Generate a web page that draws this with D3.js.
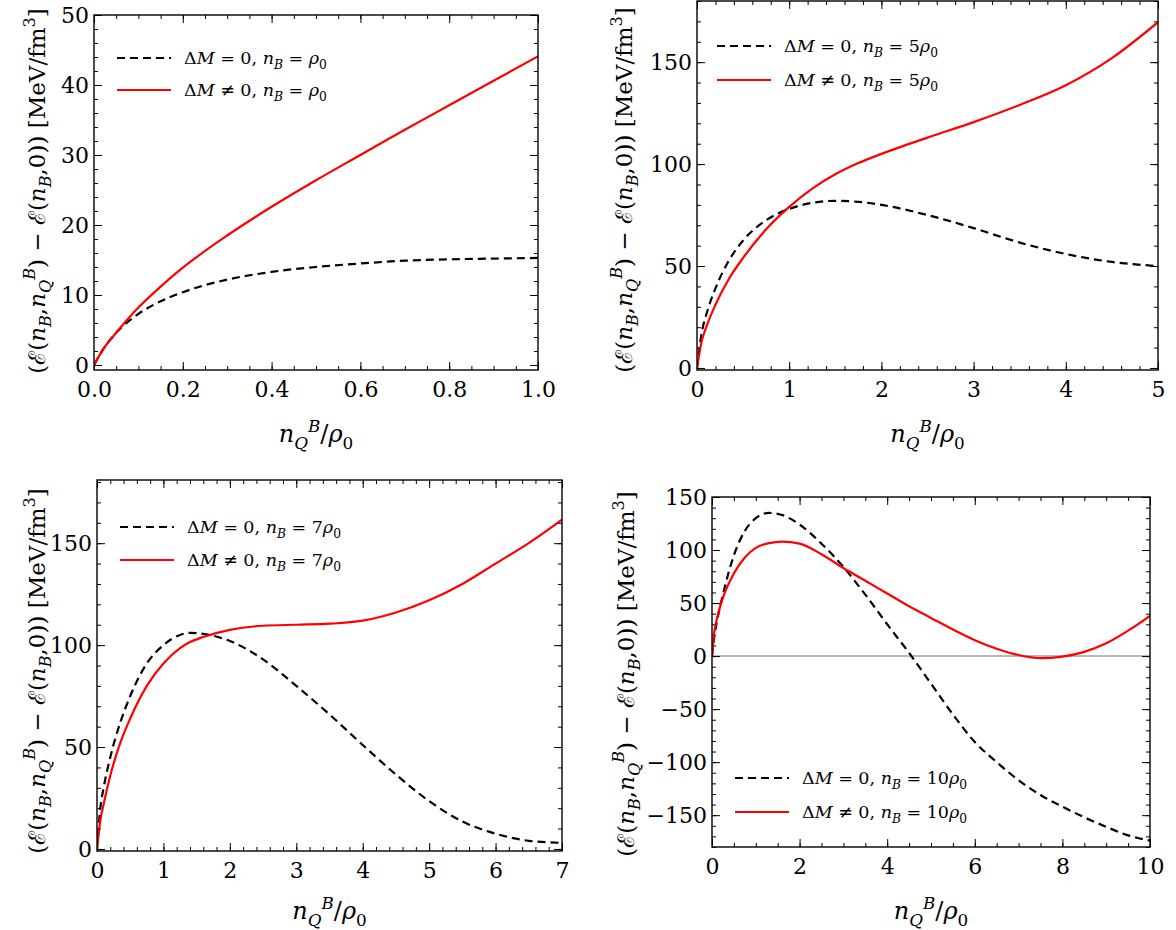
<!DOCTYPE html>
<html>
<head>
<meta charset="utf-8">
<script src="https://cdn.jsdelivr.net/npm/d3@7"></script>
<style>
body { margin: 0; background: #fff; }
svg text { font-family: "DejaVu Serif", "Liberation Serif", serif; fill: #000; }
</style>
</head>
<body>
<svg id="chart" width="1176" height="930"></svg>
<script>
// ---- values ----
// panel 1 : n_B = rho0
var p1X    = [0, 0.02, 0.05, 0.1, 0.15, 0.2, 0.3, 0.4, 0.5, 0.6, 0.7, 0.8, 0.9, 1.0];
var p1Zero = [0, 2.2, 4.6, 7.3, 9.1, 10.4, 12.2, 13.3, 14.0, 14.5, 14.9, 15.1, 15.2, 15.3];
var p1Mass = [0, 2.2, 4.6, 8.2, 11.2, 13.9, 18.5, 22.6, 26.4, 30.0, 33.6, 37.1, 40.6, 44.1];

// panel 2 : n_B = 5 rho0
var p2X    = [0, 0.05, 0.1, 0.2, 0.35, 0.5, 0.75, 1, 1.25, 1.5, 1.75, 2, 2.5, 3, 3.5, 4, 4.5, 5];
var p2Zero = [0, 17, 26, 39, 53, 62.5, 72.5, 78, 81, 82, 81.5, 80, 75, 68.6, 61.5, 55.9, 52, 50];
var p2Mass = [0, 13, 20, 31, 44, 54, 68, 79, 88, 95, 100.5, 105, 113, 120.6, 129, 138.7, 152, 169.6];

// panel 3 : n_B = 7 rho0
var p3X    = [0, 0.05, 0.1, 0.2, 0.35, 0.5, 0.75, 1, 1.25, 1.4, 1.6, 2, 2.5, 3, 3.5, 4, 4.5, 5, 5.5, 6, 6.5, 7];
var p3Zero = [0, 20, 30, 45, 62, 75, 91, 100, 105, 106, 105.5, 102, 93, 80, 66, 51, 36.5, 23.5, 13.5, 7.5, 4, 3];
var p3Mass = [0, 14, 22, 36, 52, 64, 80, 91, 98.5, 101.5, 104, 107.5, 109.5, 110, 110.5, 112, 116, 122, 130, 140, 150, 161.5];

// panel 4 : n_B = 10 rho0
var p4X    = [0, 0.05, 0.1, 0.25, 0.5, 0.75, 1, 1.3, 1.6, 2, 2.5, 3, 3.5, 4, 4.5, 5, 5.5, 6, 6.5, 7, 7.5, 8, 8.5, 9, 9.5, 10];
var p4Zero = [0, 18, 30, 58, 95, 118, 130, 135, 133, 124, 106, 84, 58, 30, 3, -26, -55, -81, -100, -117, -131, -142, -152, -161, -169, -174];
var p4Mass = [0, 22, 33, 55, 78, 93, 102, 106.5, 108, 106, 96, 83, 71, 59, 47, 36, 25, 15, 7, 1, -2, -0.5, 4, 12, 24, 38];

// tick values
var p1XTicks = [0, 0.2, 0.4, 0.6, 0.8, 1.0];
var p1YTicks = [0, 10, 20, 30, 40, 50];
var p2XTicks = [0, 1, 2, 3, 4, 5];
var p2YTicks = [0, 50, 100, 150];
var p3XTicks = [0, 1, 2, 3, 4, 5, 6, 7];
var p3YTicks = [0, 50, 100, 150];
var p4XTicks = [0, 2, 4, 6, 8, 10];
var p4YTicks = [-150, -100, -50, 0, 50, 100, 150];

var nbLabels = ["", "5", "7", "10"];

var FONT = '"DejaVu Serif", "Liberation Serif", serif';
var svg = d3.select("#chart");

// write text with italic / sub / sup pieces
function mathText(sel, parts, fs) {
  sel.style("font-family", FONT);
  var cur = 0;
  parts.forEach(function(p) {
    var st = p[1] || "";
    var isSub = st.indexOf("sub") >= 0, isSup = st.indexOf("sup") >= 0;
    var target = isSub ? fs * 0.28 : (isSup ? -fs * 0.42 : 0);
    var ts = sel.append("tspan")
      .attr("dy", target - cur)
      .style("font-size", (isSub || isSup ? fs * 0.7 : fs) + "px")
      .text(p[0]);
    if (st.charAt(0) === "i") ts.style("font-style", "italic");
    cur = target;
  });
}

var yLabelParts = [["("], ["ℰ"], ["("], ["n", "i"], ["B", "isub"], [","], ["n", "i"], ["Q", "isub"], ["B", "isup"],
  [") − "], ["ℰ"], ["("], ["n", "i"], ["B", "isub"], [",0)) [MeV/fm"], ["3", "sup"], ["]"]];
var xLabelParts = [["n", "i"], ["Q", "isub"], ["B", "isup"], ["/"], ["ρ", "i"], ["0", "sub"]];

function legendParts(nb, neq) {
  return [["Δ"], ["M", "i"], [neq ? " ≠ 0, " : " = 0, "], ["n", "i"], ["B", "isub"], [" = " + nb], ["ρ", "i"], ["0", "sub"]];
}

var panels = [
  {box: [94, 538, 15, 370], xd: [0, 1], yd: [-0.714, 50], xt: p1XTicks, xm: 0.05, yt: p1YTicks, ym: 2, xfmt: d3.format(".1f"),
   x: p1X, zero: p1Zero, mass: p1Mass, nb: nbLabels[0], leg: [117, 58, 90], ylab: [45, 191], xlab: 442},
  {box: [697, 1158, 1, 370], xd: [0, 5], yd: [-1, 180], xt: p2XTicks, xm: 0.2, yt: p2YTicks, ym: 10, xfmt: d3.format("d"),
   x: p2X, zero: p2Zero, mass: p2Mass, nb: nbLabels[1], leg: [717, 46, 80], ylab: [632, 190], xlab: 442},
  {box: [97, 562, 480, 851], xd: [0, 7], yd: [-1, 181], xt: p3XTicks, xm: 0.2, yt: p3YTicks, ym: 10, xfmt: d3.format("d"),
   x: p3X, zero: p3Zero, mass: p3Mass, nb: nbLabels[2], leg: [120, 527, 560], ylab: [45, 671], xlab: 919},
  {box: [712, 1150, 497, 847], xd: [0, 10], yd: [-180, 150], xt: p4XTicks, xm: 0.5, yt: p4YTicks, ym: 10, xfmt: d3.format("d"),
   x: p4X, zero: p4Zero, mass: p4Mass, nb: nbLabels[3], leg: [735, 778, 812], ylab: [634, 674], xlab: 919, zeroLine: true}
];

panels.forEach(function(p, i) {
  var L = p.box[0], R = p.box[1], T = p.box[2], B = p.box[3];
  var x = d3.scaleLinear().domain(p.xd).range([L, R]);
  var y = d3.scaleLinear().domain(p.yd).range([B, T]);
  var g = svg.append("g");

  var xMinor = d3.range(p.xd[0], p.xd[1] + 1e-9, p.xm);
  var yMinor = d3.range(Math.ceil(p.yd[0] / p.ym) * p.ym, p.yd[1] + 1e-9, p.ym);

  if (p.zeroLine) {
    g.append("line").attr("x1", L).attr("x2", R).attr("y1", y(0)).attr("y2", y(0))
      .attr("stroke", "#a0a0a0").attr("stroke-width", 1.5);
  }

  // axes: major + minor ticks inward on all four sides
  function axisGroup(axis, tx, ty) {
    var a = g.append("g").attr("transform", "translate(" + tx + "," + ty + ")").call(axis);
    a.attr("font-family", null).attr("font-size", null);
    a.select(".domain").remove();
    a.selectAll("line").attr("stroke", "#000").attr("stroke-width", 1);
    a.selectAll("text").style("font-size", "22px").style("font-family", FONT);
    return a;
  }
  axisGroup(d3.axisBottom(x).tickValues(xMinor).tickSize(-4).tickFormat(""), 0, B);
  axisGroup(d3.axisTop(x).tickValues(xMinor).tickSize(-4).tickFormat(""), 0, T);
  axisGroup(d3.axisLeft(y).tickValues(yMinor).tickSize(-4).tickFormat(""), L, 0);
  axisGroup(d3.axisRight(y).tickValues(yMinor).tickSize(-4).tickFormat(""), R, 0);
  axisGroup(d3.axisBottom(x).tickValues(p.xt).tickSize(-8).tickPadding(6).tickFormat(p.xfmt), 0, B)
    .selectAll("text").attr("dy", "0.95em");
  axisGroup(d3.axisTop(x).tickValues(p.xt).tickSize(-8).tickFormat(""), 0, T);
  axisGroup(d3.axisLeft(y).tickValues(p.yt).tickSize(-8).tickPadding(5).tickFormat(d3.format("d")), L, 0);
  axisGroup(d3.axisRight(y).tickValues(p.yt).tickSize(-8).tickFormat(""), R, 0);

  var clipId = "clip" + i;
  g.append("clipPath").attr("id", clipId).append("rect")
    .attr("x", L).attr("y", T).attr("width", R - L).attr("height", B - T);

  var line = d3.line().x(function(d) { return x(d[0]); }).y(function(d) { return y(d[1]); })
    .curve(d3.curveMonotoneX);

  g.append("path").datum(d3.zip(p.x, p.zero)).attr("d", line).attr("clip-path", "url(#" + clipId + ")")
    .attr("fill", "none").attr("stroke", "#000").attr("stroke-width", 2.2).attr("stroke-dasharray", "8,5");
  g.append("path").datum(d3.zip(p.x, p.mass)).attr("d", line).attr("clip-path", "url(#" + clipId + ")")
    .attr("fill", "none").attr("stroke", "#ff0000").attr("stroke-width", 2.2);

  g.append("rect").attr("x", L).attr("y", T).attr("width", R - L).attr("height", B - T)
    .attr("fill", "none").attr("stroke", "#000").attr("stroke-width", 1.4);

  // legend
  var lx = p.leg[0];
  [[p.leg[1], false], [p.leg[2], true]].forEach(function(e) {
    g.append("line").attr("x1", lx).attr("x2", lx + 54).attr("y1", e[0]).attr("y2", e[0])
      .attr("stroke", e[1] ? "#ff0000" : "#000").attr("stroke-width", 2.2)
      .attr("stroke-dasharray", e[1] ? null : "8,5");
    mathText(g.append("text").attr("x", lx + 67).attr("y", e[0] + 6), legendParts(p.nb, e[1]), 17.5);
  });

  // axis titles
  mathText(g.append("text").attr("text-anchor", "middle")
    .attr("transform", "translate(" + p.ylab[0] + "," + p.ylab[1] + ") rotate(-90)"), yLabelParts, 23);
  mathText(g.append("text").attr("text-anchor", "middle").attr("x", (L + R) / 2).attr("y", p.xlab), xLabelParts, 24);
});
</script>
</body>
</html>
